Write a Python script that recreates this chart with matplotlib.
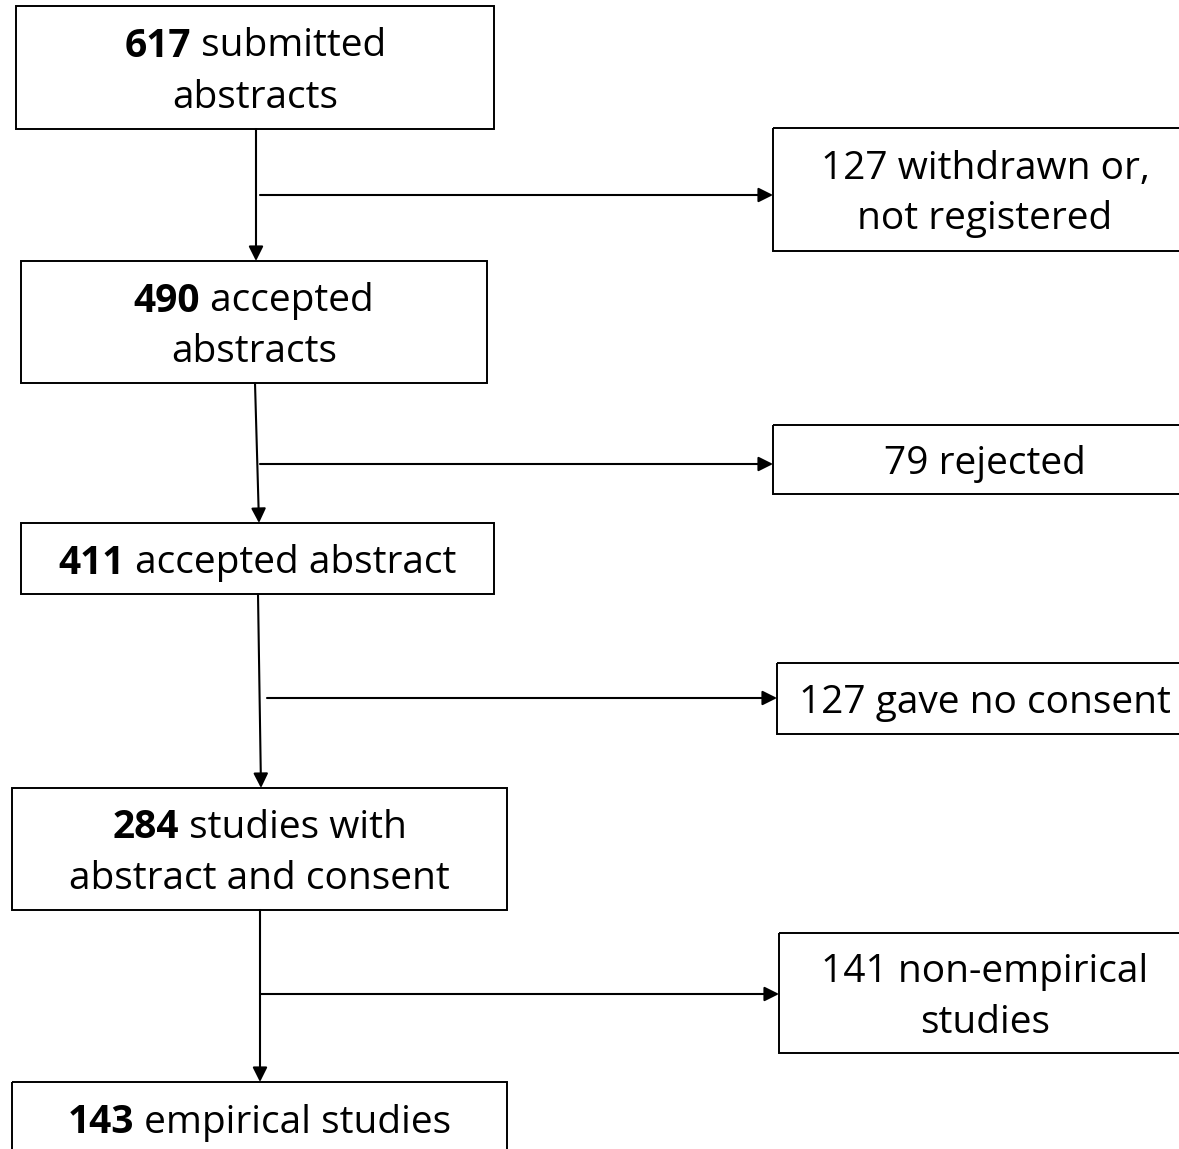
import matplotlib
matplotlib.use("Agg")
from matplotlib import pyplot as plt
from matplotlib.patches import Rectangle

# flow counts and labels (main column)
main_counts = [617, 490, 411, 284, 143]
main_labels = ["submitted\nabstracts", "accepted\nabstracts", "accepted abstract",
               "studies with\nabstract and consent", "empirical studies"]

# excluded at each step (right column)
excl_counts = [127, 79, 127, 141]
excl_labels = ["withdrawn or,\nnot registered", "rejected", "gave no consent",
               "non-empirical\nstudies"]

# layout in pixels (x0, y0, x1, y1), y pointing down
main_boxes = [(16, 6, 494, 129), (21, 261, 487, 383), (21, 523, 494, 594),
              (12, 788, 507, 910), (12, 1082, 507, 1200)]
excl_boxes = [(773, 128, 1195, 251), (773, 425, 1195, 494), (777, 663, 1195, 734),
              (779, 933, 1195, 1053)]
arrow_x = [(256, 256), (255, 259), (258, 261), (260, 260)]
branch = [(260, 195), (260, 464), (267, 698), (260, 994)]

FS = 28
LINE = 51
FONT = "Open Sans"

W, H = 1179, 1149
fig = plt.figure(figsize=(W / 100, H / 100), dpi=100)
ax = fig.add_axes([0, 0, 1, 1])
ax.set_xlim(0, W)
ax.set_ylim(H, 0)
ax.axis("off")
renderer = fig.canvas.get_renderer()


def box(b):
    x0, y0, x1, y1 = b
    ax.add_patch(Rectangle((x0, y0), x1 - x0, y1 - y0, fill=False, ec="black", lw=1.4))


def line_text(x, y, bold, rest):
    # draws one centered line, with an optional bold leading part
    parts = []
    if bold:
        parts.append(ax.text(0, y, bold, fontsize=FS, fontweight="bold", family=FONT,
                             ha="left", va="center_baseline"))
    parts.append(ax.text(0, y, rest, fontsize=FS, family=FONT,
                         ha="left", va="center_baseline"))
    widths = [p.get_window_extent(renderer).width for p in parts]
    left = x - sum(widths) / 2
    for p, w in zip(parts, widths):
        p.set_x(left)
        left += w


def box_text(b, bold, label, center_y=None):
    x0, y0, x1, y1 = b
    cx = (x0 + x1) / 2
    cy = center_y if center_y is not None else (y0 + y1) / 2
    lines = label.split("\n")
    n = len(lines)
    for i, ln in enumerate(lines):
        y = cy + (i - (n - 1) / 2) * LINE
        if i == 0 and bold:
            line_text(cx, y, bold, " " + ln)
        else:
            line_text(cx, y, None, ln)


for b, c, lab in zip(main_boxes, main_counts, main_labels):
    box(b)
    cy = 1118 if b[3] > H else None
    box_text(b, str(c), lab, cy)

for b, c, lab in zip(excl_boxes, excl_counts, excl_labels):
    box(b)
    cx = 985
    bb = (cx - 200, b[1], cx + 200, b[3])
    box_text(bb, None, f"{c} {lab}")

arrow_style = dict(arrowstyle="-|>", color="black", lw=1.5, mutation_scale=22,
                   shrinkA=0, shrinkB=0)
for i, (xs, xe) in enumerate(arrow_x):
    ax.annotate("", xy=(xe, main_boxes[i + 1][1]), xytext=(xs, main_boxes[i][3]),
                arrowprops=arrow_style)
for (bx, by), eb in zip(branch, excl_boxes):
    ax.annotate("", xy=(eb[0], by), xytext=(bx, by), arrowprops=arrow_style)

fig.savefig("out.png", dpi=100)
